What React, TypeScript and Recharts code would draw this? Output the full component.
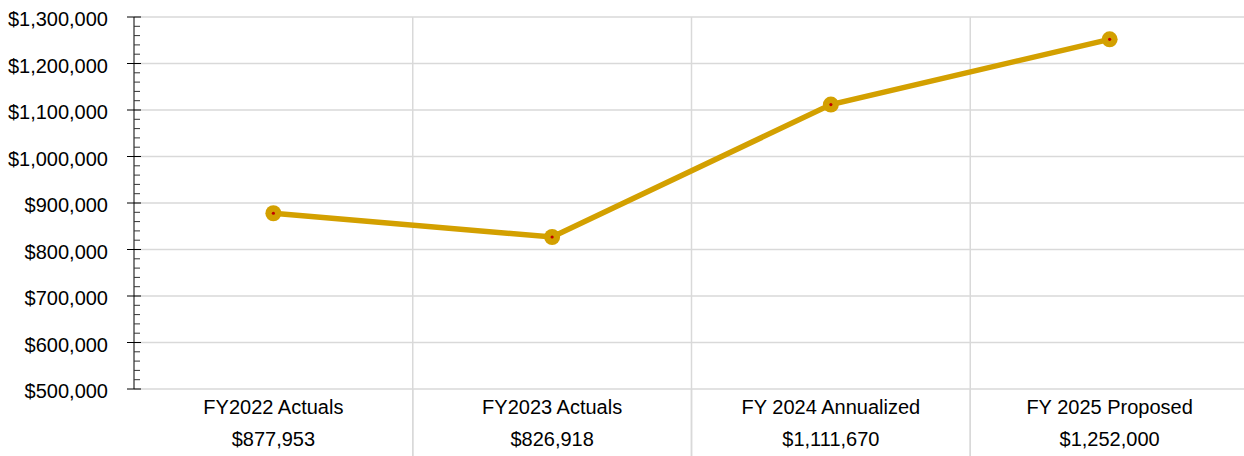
import React from 'react';
import { LineChart, Line, XAxis, YAxis, CartesianGrid } from 'recharts';

const categories = ['FY2022 Actuals', 'FY2023 Actuals', 'FY 2024 Annualized', 'FY 2025 Proposed'];
const amounts = [877953, 826918, 1111670, 1252000];
const majorTicks = [500000, 600000, 700000, 800000, 900000, 1000000, 1100000, 1200000, 1300000];
const minorStep = 20000;

const Y_MIN = majorTicks[0];
const Y_MAX = majorTicks[majorTicks.length - 1];

const LINE_COLOR = '#D3A000';
const GRID = '#D9D9D9';
const FONT = '"Liberation Sans", Arial, sans-serif';

const data = categories.map((name, i) => ({ name, amount: amounts[i] }));

const allTicks: number[] = [];
for (let v = Y_MIN; v <= Y_MAX; v += minorStep) allTicks.push(v);

const money = (v: number) => '$' + v.toLocaleString('en-US');

const YTick = (props: any) => {
    const { x, y, payload } = props;
    const major = payload.value % 100000 === 0;
    if (!major) {
        return <line x1={x} x2={x + 6} y1={y} y2={y} stroke="#333" strokeWidth={1} />;
    }
    return (
        <g>
            <line x1={x - 7} x2={x + 7} y1={y} y2={y} stroke="#000" strokeWidth={1} />
            <text x={x - 26} y={y + 9} textAnchor="end" fontSize={20} fontFamily={FONT} fill="#000">
                {money(payload.value)}
            </text>
        </g>
    );
};

// category label + value underneath; separators continue down through the label area
const XTick = (props: any) => {
    const { x, y, payload, index } = props;
    const half = payload.offset || 0;
    return (
        <g>
            {index > 0 && (
                <line x1={x - half} x2={x - half} y1={y} y2={y + 70} stroke={GRID} strokeWidth={1.5} />
            )}
            <line x1={x + half} x2={x + half} y1={y} y2={y + 70} stroke={GRID} strokeWidth={1.5} />
            <text x={x} y={y + 25} textAnchor="middle" fontSize={20} fontFamily={FONT} fill="#000">
                {payload.value}
            </text>
            <text x={x} y={y + 57} textAnchor="middle" fontSize={20} fontFamily={FONT} fill="#000">
                {money(amounts[index])}
            </text>
        </g>
    );
};

const Dot = (props: any) => {
    const { cx, cy } = props;
    if (cx == null || cy == null) return null;
    return (
        <g>
            <circle cx={cx} cy={cy} r={8} fill={LINE_COLOR} />
            <circle cx={cx} cy={cy} r={1.6} fill="#C00000" />
        </g>
    );
};

export default function App() {
    return (
        <div style={{ position: 'absolute', left: 0, top: 0, width: 1244, height: 456, overflow: 'hidden', background: '#fff' }}>
            <LineChart width={1249} height={456} data={data} margin={{ top: 17, right: 0, bottom: 0, left: 0 }}>
                <CartesianGrid
                    stroke={GRID}
                    strokeWidth={1.5}
                    horizontalCoordinatesGenerator={({ offset }: any) =>
                        majorTicks.map(v => offset.top + offset.height * (1 - (v - Y_MIN) / (Y_MAX - Y_MIN)))}
                    verticalCoordinatesGenerator={({ offset }: any) =>
                        categories.map((_, i) => offset.left + (i * offset.width) / categories.length).slice(1)}
                />
                <XAxis
                    dataKey="name"
                    scale="band"
                    axisLine={false}
                    tickLine={false}
                    tickSize={0}
                    tickMargin={0}
                    height={67}
                    interval={0}
                    tick={<XTick />}
                />
                <YAxis
                    domain={[Y_MIN, Y_MAX]}
                    ticks={allTicks}
                    interval={0}
                    width={134}
                    tickLine={false}
                    tickSize={0}
                    tickMargin={0}
                    axisLine={{ stroke: '#000', strokeWidth: 1 }}
                    tick={<YTick />}
                />
                <Line
                    type="linear"
                    dataKey="amount"
                    stroke={LINE_COLOR}
                    strokeWidth={5.5}
                    dot={<Dot />}
                    activeDot={false}
                    isAnimationActive={false}
                />
            </LineChart>
        </div>
    );
}
